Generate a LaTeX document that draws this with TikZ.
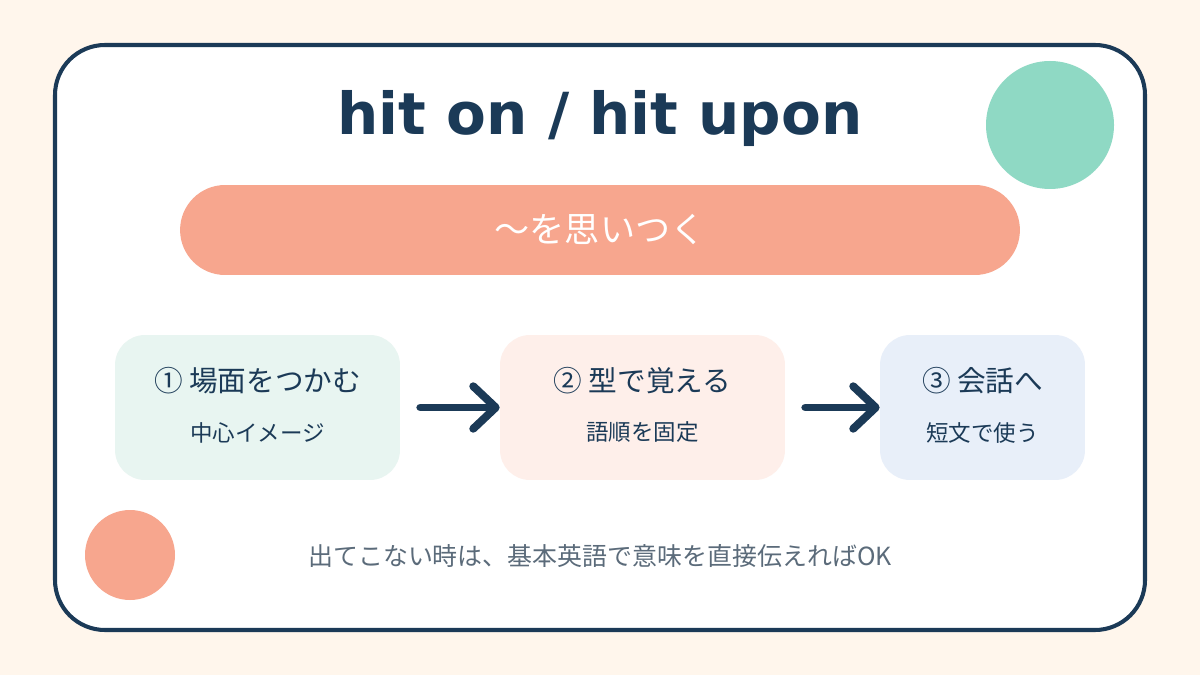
\documentclass[tikz,border=0pt]{standalone}
\usepackage{fontspec}
\setmainfont{Noto Sans CJK JP}
\setsansfont{DejaVu Sans}
\usepackage{tikz}
\usetikzlibrary{arrows.meta,positioning,calc}
\definecolor{navy}{HTML}{1B3A57}
\definecolor{cream}{HTML}{FFF6EC}
\definecolor{mint}{HTML}{8FD9C4}
\definecolor{salmon}{HTML}{F7A68E}
\definecolor{mintbg}{HTML}{E8F5F1}
\definecolor{salmonbg}{HTML}{FEEFEA}
\definecolor{skybg}{HTML}{E8EFF9}
\definecolor{slate}{HTML}{5B6B7A}
\tikzset{
  stepbox/.style={
    rectangle, fill=#1, rounded corners=0.6cm,
    minimum width=5.7cm, minimum height=2.9cm, inner sep=0pt
  },
  stepbox/.default=mintbg,
  steptitle/.style={
    font=\fontsize{16.3}{19}\selectfont, text=navy, inner sep=0pt
  },
  stepnote/.style={
    font=\fontsize{12.8}{15}\selectfont, text=navy, inner sep=0pt
  },
  flowarrow/.style={
    -{Straight Barb[length=0.45cm, width=0.85cm, round]},
    line width=4.5pt, line cap=round, color=navy, shorten <=0.4cm
  },
}

\begin{document}
\begin{tikzpicture}[x=0.02cm, y=-0.02cm]
  % Background and frame
  \fill[cream] (0,0) rectangle (1200,675);
  \draw[line width=2.3pt, navy, fill=white, rounded corners=1cm]
    (55,45) rectangle (1145,630);
  \fill[mint] (1050,125) circle (64);
  \fill[salmon] (130,555) circle (45);

  % Nodes
  \node[font=\sffamily\bfseries\fontsize{33}{38}\selectfont, text=navy]
    (title) at (600,119) {hit on / hit upon};
  \node[rectangle, fill=salmon, rounded corners=0.9cm,
        minimum width=16.8cm, minimum height=1.8cm,
        font=\fontsize{20}{24}\selectfont, text=white]
    (meaning) at (600,230) {〜を思いつく};
  \node[stepbox=mintbg] (scene) at (257.5,407.5) {};
  \node[stepbox=salmonbg] (form) at (642.5,407.5) {};
  \node[stepbox=skybg, minimum width=4.1cm] (talk) at (982.5,407.5) {};

  % Labels
  \node[steptitle] (scenet) at ($(scene.center)+(0,-27)$) {① 場面をつかむ};
  \node[stepnote] (scenen) at ($(scene.center)+(0,25)$) {中心イメージ};
  \node[steptitle] (formt) at ($(form.center)+(0,-27)$) {② 型で覚える};
  \node[stepnote] (formn) at ($(form.center)+(0,25)$) {語順を固定};
  \node[steptitle] (talkt) at ($(talk.center)+(0,-27)$) {③ 会話へ};
  \node[stepnote] (talkn) at ($(talk.center)+(0,25)$) {短文で使う};

  % Arrows
  \draw[flowarrow] (scene.east) -- (form.west);
  \draw[flowarrow] (form.east) -- (talk.west);

  % Footer
  \node[font=\fontsize{14.2}{17}\selectfont, text=slate]
    (hint) at (600,556) {出てこない時は、基本英語で意味を直接伝えればOK};
\end{tikzpicture}
\end{document}
